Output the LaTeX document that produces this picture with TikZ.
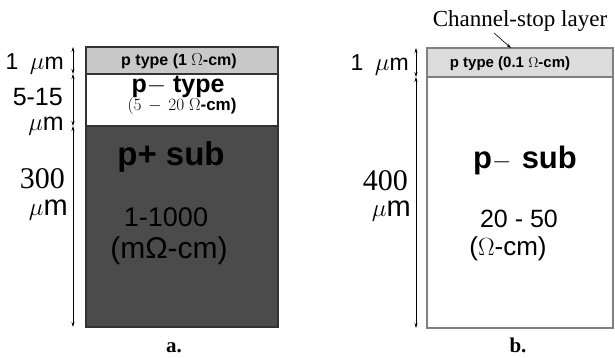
\documentclass[tikz,border=0pt]{standalone}
\usepackage{fontspec}
\setmainfont{Liberation Serif}
\setsansfont{Liberation Sans}
\usetikzlibrary{arrows.meta}
\definecolor{layergray}{HTML}{C8C8C8}
\definecolor{stopgray}{HTML}{DCDCDC}
\definecolor{subdark}{HTML}{4B4B4B}
\newcommand{\fsz}[1]{\fontsize{#1}{#1}\selectfont}
\begin{document}
\begin{tikzpicture}[x=1pt,y=-1pt,
  layer/.style={draw=black!80, line width=1.2pt, inner sep=0pt, outer sep=0pt, anchor=north west},
  layerb/.style={draw=black!50, line width=1.2pt, inner sep=0pt, outer sep=0pt, anchor=north west},
  dim/.style={{Stealth[length=5pt,width=3pt]}-{Stealth[length=5pt,width=3pt]}, line width=0.6pt},
  lbl/.style={inner sep=0pt, anchor=base east, font=\sffamily},
  txt/.style={inner sep=0pt, anchor=base, font=\sffamily}]
\useasboundingbox (0,0) rectangle (615,358);

% ---- (a) epitaxial wafer ----
\node[layer, fill=subdark, minimum width=192pt, minimum height=201pt] (asub) at (86,126) {};
\node[layer, fill=white, minimum width=192pt, minimum height=52pt] (aepi) at (86,74) {};
\node[layer, fill=layergray, minimum width=192pt, minimum height=27pt] (atop) at (86,47) {};

\node[txt, font=\sffamily\bfseries\fsz{16}] (atopt) at (179,66) {p type (1 $\Omega$-cm)};
\node[txt, font=\sffamily\bfseries\fsz{25}] (aepit) at (178,93) {p$-$ type};
\node[txt, font=\sffamily\bfseries\fsz{17}] (aepir) at (182,111) {$(5\,-\,20\;\Omega$-cm)};
\node[txt, font=\sffamily\bfseries\fsz{33}] (asubt) at (171,165) {p+ sub};
\node[txt, font=\sffamily\fsz{27}] (asubr) at (166,226) {1-1000};
\node[txt, font=\sffamily\fsz{30}] (asubu) at (169,258) {(mΩ-cm)};

\coordinate (ad0) at (73,47);
\coordinate (ad1) at (73,74);
\coordinate (ad2) at (73,126);
\coordinate (ad3) at (73,327);
\draw[dim] (ad0) -- (ad1);
\draw[dim] (ad1) -- (ad2);
\draw[dim] (ad2) -- (ad3);

\node[lbl, font=\sffamily\fsz{23}] (al1) at (64,70) {1\enspace$\mu$m};
\node[lbl, font=\sffamily\fsz{25}] (al2) at (63,106) {5-15};
\node[lbl, font=\sffamily\fsz{25}] (al2u) at (64,131) {$\mu$m};
\node[lbl, font=\rmfamily\fsz{30}] (al3) at (65,188) {300};
\node[lbl, font=\sffamily\fsz{29}] (al3u) at (68,215) {$\mu$m};

\node[txt, font=\rmfamily\bfseries\fsz{21}] (acap) at (174,352) {a.};

% ---- (b) bulk wafer with channel stop ----
\node[layerb, fill=white, minimum width=186pt, minimum height=251pt] (bsub) at (427,77) {};
\node[layerb, fill=stopgray, minimum width=186pt, minimum height=29pt] (btop) at (427,48) {};

\node[txt, font=\sffamily\bfseries\fsz{15}] (btopt) at (510,68) {p type (0.1 $\Omega$-cm)};
\node[txt, font=\sffamily\bfseries\fsz{31}] (bsubt) at (525,168) {p$-$\,\,sub};
\node[txt, font=\sffamily\fsz{25}] (bsubr) at (519,227) {20 - 50};
\node[txt, font=\sffamily\fsz{26}] (bsubu) at (508,255) {($\Omega$-cm)};

\coordinate (bd0) at (416,48);
\coordinate (bd1) at (416,77);
\coordinate (bd2) at (416,328);
\draw[dim] (bd0) -- (bd1);
\draw[dim] (bd1) -- (bd2);

\node[lbl, font=\sffamily\fsz{23}] (bl1) at (409,71) {1\enspace$\mu$m};
\node[lbl, font=\rmfamily\fsz{30}] (bl2) at (408,190) {400};
\node[lbl, font=\sffamily\fsz{29}] (bl2u) at (411,216) {$\mu$m};

\node[txt, font=\rmfamily\fsz{23}] (bstop) at (520,27) {Channel-stop layer};
\coordinate (bstoptip) at (511,48);
\draw[-{Stealth[length=5pt,width=3pt]}, line width=0.6pt] (494,33) -- (bstoptip);

\node[txt, font=\rmfamily\bfseries\fsz{21}] (bcap) at (518,352) {b.};
\end{tikzpicture}
\end{document}
